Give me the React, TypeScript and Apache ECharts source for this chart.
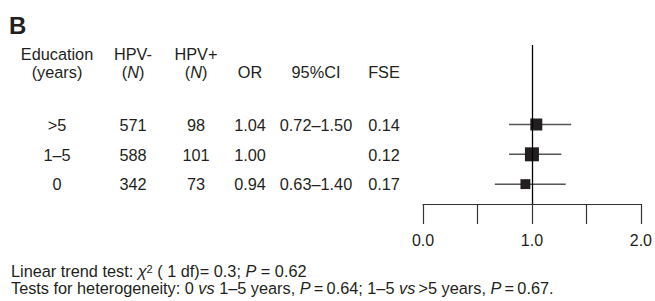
import React, { useEffect, useRef } from "react";
import * as echarts from "echarts";

const education = [">5", "1–5", "0"];
const hpvNeg = [571, 588, 342];
const hpvPos = [98, 101, 73];
const orValues = [1.04, 1.0, 0.94];
const ciText = ["0.72–1.50", "", "0.63–1.40"];
const fse = [0.14, 0.12, 0.17];
// interval ends as drawn in the plot
const ciLowDrawn = [0.79, 0.79, 0.66];
const ciHighDrawn = [1.36, 1.27, 1.31];
const xTicks = [0, 0.5, 1, 1.5, 2];

const FONT = "'Liberation Sans', Arial, Helvetica, sans-serif";
const INK = "#231f20";
const FS = 16.3;

export default function App() {
  const ref = useRef<HTMLDivElement>(null);
  useEffect(() => {
    if (!ref.current) return;
    const chart = echarts.init(ref.current, undefined, { renderer: "svg" });
    const rowY = (i: number) => 8 - 3 * i;

    const txt = (text: string, x: number, y: number, align = "center", extra: any = {}) => ({
      type: "text",
      x,
      y,
      silent: true,
      style: {
        text,
        fill: INK,
        font: `${FS}px ${FONT}`,
        textAlign: align,
        textVerticalAlign: "middle",
        ...extra,
      },
    });

    const rich = {
      n: { fontSize: FS, fontFamily: FONT, color: INK, lineHeight: 16 },
      i: { fontSize: FS, fontFamily: FONT, color: INK, fontStyle: "italic", lineHeight: 16 },
      sup: { fontSize: 11, fontFamily: FONT, color: INK, verticalAlign: "top", lineHeight: 11 },
    };

    const headerTop = 53.5;
    const headerBot = 71.5;
    const rowPix = [124.5, 154.5, 184];
    const colX = { edu: 57, neg: 133, pos: 196, or: 250, ci: 316, fse: 384 };

    const graphics: any[] = [
      txt("B", 9, 25, "left", { font: `bold 24px ${FONT}` }),
      txt("Education", colX.edu, headerTop),
      txt("(years)", colX.edu, headerBot),
      txt("HPV-", colX.neg, headerTop),
      txt("{n|(}{i|N}{n|)}", colX.neg, headerBot, "center", { rich }),
      txt("HPV+", colX.pos, headerTop),
      txt("{n|(}{i|N}{n|)}", colX.pos, headerBot, "center", { rich }),
      txt("OR", colX.or, headerBot),
      txt("95%CI", colX.ci, headerBot),
      txt("FSE", colX.fse, headerBot),
    ];
    education.forEach((e, i) => {
      const y = rowPix[i];
      graphics.push(txt(e, colX.edu, y));
      graphics.push(txt(String(hpvNeg[i]), colX.neg, y));
      graphics.push(txt(String(hpvPos[i]), colX.pos, y));
      graphics.push(txt(orValues[i].toFixed(2), colX.or, y));
      if (ciText[i]) graphics.push(txt(ciText[i], colX.ci, y));
      graphics.push(txt(fse[i].toFixed(2), colX.fse, y));
    });
    graphics.push(
      txt(
        "{n|Linear trend test: }{i|χ}{sup|2}{n| ( 1 df)= 0.3; }{i|P}{n| = 0.62}",
        11,
        271,
        "left",
        { rich }
      )
    );
    graphics.push(
      txt(
        "{n|Tests for heterogeneity: 0 }{i|vs}{n| 1–5 years, }{i|P}{n|\u2009=\u20090.64; 1–5 }{i|vs}{n|\u2009>5 years, }{i|P}{n|\u2009=\u20090.67.}",
        11,
        288,
        "left",
        { rich }
      )
    );

    chart.setOption({
      animation: false,
      grid: { left: 423, right: 11, top: 45, bottom: 97, containLabel: false },
      xAxis: {
        type: "value",
        min: xTicks[0],
        max: xTicks[xTicks.length - 1],
        interval: 0.5,
        axisLine: { show: true, lineStyle: { color: "#333", width: 1.2 } },
        axisTick: { show: true, length: 20, lineStyle: { color: "#333", width: 1.2 } },
        axisLabel: {
          fontSize: 16,
          fontFamily: FONT,
          color: INK,
          margin: 28,
          formatter: (v: number) => (Math.abs(v % 1) < 1e-9 ? v.toFixed(1) : ""),
        },
        splitLine: { show: false },
      },
      yAxis: { type: "value", min: 0, max: 16, show: false },
      series: [
        {
          type: "custom",
          z: 2,
          renderItem: (params: any, api: any) => {
            const y = api.value(2);
            const p1 = api.coord([api.value(0), y]);
            const p2 = api.coord([api.value(1), y]);
            return {
              type: "line",
              shape: { x1: p1[0], y1: p1[1], x2: p2[0], y2: p2[1] },
              style: { stroke: "#555", lineWidth: 1.5 },
            };
          },
          encode: { x: [0, 1], y: 2 },
          data: education.map((_, i) => [ciLowDrawn[i], ciHighDrawn[i], rowY(i)]),
        },
        {
          type: "scatter",
          z: 3,
          symbol: "rect",
          symbolSize: (val: number[], p: any) => 1.68 / fse[p.dataIndex],
          itemStyle: { color: INK, opacity: 1 },
          data: education.map((_, i) => [orValues[i], rowY(i)]),
          markLine: {
            silent: true,
            symbol: ["none", "none"],
            label: { show: false },
            lineStyle: { color: "#000", width: 1.3, type: "solid" },
            data: [{ xAxis: 1 }],
          },
        },
      ],
      graphic: graphics,
    });
    return () => chart.dispose();
  }, []);
  return (
    <div
      ref={ref}
      style={{ position: "fixed", left: 0, top: 0, width: 655, height: 301, background: "#fff" }}
    />
  );
}
